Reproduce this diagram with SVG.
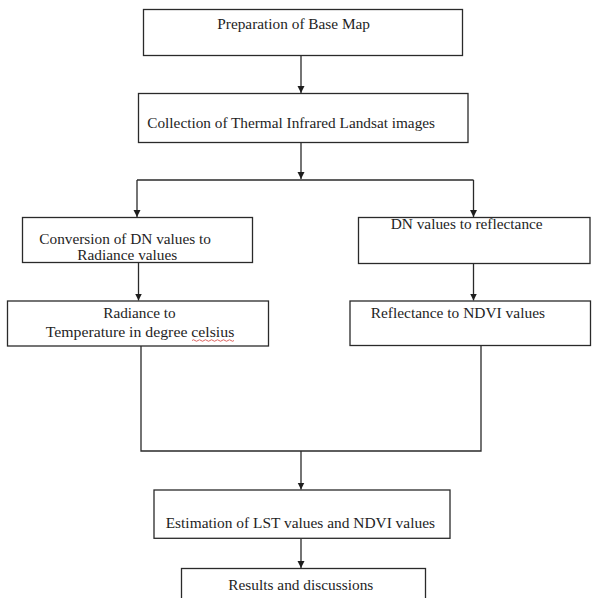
<svg xmlns="http://www.w3.org/2000/svg" width="592" height="598" viewBox="0 0 592 598">
  <style>
    .box { fill: #ffffff; stroke: #2a2a2a; stroke-width: 1.3; }
    .lbl { font-family: "Liberation Serif", "Times New Roman", serif; font-size: 15px; fill: #1e1e1e; }
    .conn { fill: none; stroke: #2a2a2a; stroke-width: 1.3; }
    .arr { marker-end: url(#ah); }
    .squig { fill: none; stroke: #d9534f; stroke-width: 0.9; }
  </style>
  <defs>
    <marker id="ah" markerUnits="userSpaceOnUse" markerWidth="8" markerHeight="8" refX="7" refY="3.5" orient="auto">
      <path d="M0,0 L7,3.5 L0,7 z" fill="#1e1e1e"/>
    </marker>
  </defs>
  <rect x="0" y="0" width="592" height="598" fill="#ffffff"/>

  <g id="connectors">
    <path class="conn arr" d="M301,56 V93"/>
    <path class="conn arr" d="M301,143 V179"/>
    <path class="conn" d="M137,180 H473.5"/>
    <path class="conn arr" d="M137,180 V217"/>
    <path class="conn arr" d="M473.5,180 V217"/>
    <path class="conn arr" d="M138.5,263 V300.5"/>
    <path class="conn arr" d="M473.5,263.5 V300.5"/>
    <path class="conn" d="M141,346 V451 H481 V345"/>
    <path class="conn arr" d="M301,451 V489.5"/>
    <path class="conn arr" d="M301,538.5 V568"/>
  </g>

  <g id="node-base-map">
    <rect class="box" x="143.5" y="9.5" width="319" height="46"/>
    <text class="lbl" x="217.3" y="29" textLength="152.7" lengthAdjust="spacingAndGlyphs">Preparation of Base Map</text>
  </g>

  <g id="node-collection">
    <rect class="box" x="138.5" y="93.5" width="329.5" height="49"/>
    <text class="lbl" x="147.3" y="128" textLength="287.7" lengthAdjust="spacingAndGlyphs">Collection of Thermal Infrared Landsat images</text>
  </g>

  <g id="node-conversion">
    <rect class="box" x="22.5" y="217.5" width="230" height="45"/>
    <text class="lbl" x="39.3" y="244" textLength="171.7" lengthAdjust="spacingAndGlyphs">Conversion of DN values to</text>
    <text class="lbl" x="77.3" y="260" textLength="100" lengthAdjust="spacingAndGlyphs">Radiance values</text>
  </g>

  <g id="node-dn-reflectance">
    <rect class="box" x="358.5" y="217.5" width="231.5" height="46"/>
    <text class="lbl" x="390.7" y="229.3" textLength="152" lengthAdjust="spacingAndGlyphs">DN values to reflectance</text>
  </g>

  <g id="node-temperature">
    <rect class="box" x="7.5" y="301" width="261" height="45"/>
    <text class="lbl" x="103.3" y="318.3" textLength="72.4" lengthAdjust="spacingAndGlyphs">Radiance to</text>
    <text class="lbl" x="45.7" y="336.7" textLength="188.6" lengthAdjust="spacingAndGlyphs">Temperature in degree celsius</text>
    <path class="squig" d="M192,340.5 q1.5,-1.5 3,0 t3,0 t3,0 t3,0 t3,0 t3,0 t3,0 t3,0 t3,0 t3,0 t3,0 t3,0 t3,0 t3,0"/>
  </g>

  <g id="node-ndvi">
    <rect class="box" x="350" y="301" width="240.5" height="44.5"/>
    <text class="lbl" x="370.7" y="318.3" textLength="174.3" lengthAdjust="spacingAndGlyphs">Reflectance to NDVI values</text>
  </g>

  <g id="node-estimation">
    <rect class="box" x="154" y="490" width="296" height="48.3"/>
    <text class="lbl" x="165.7" y="528.3" textLength="269.3" lengthAdjust="spacingAndGlyphs">Estimation of LST values and NDVI values</text>
  </g>

  <g id="node-results">
    <rect class="box" x="181.5" y="568.5" width="244" height="40"/>
    <text class="lbl" x="228.3" y="590" textLength="145" lengthAdjust="spacingAndGlyphs">Results and discussions</text>
  </g>
</svg>
